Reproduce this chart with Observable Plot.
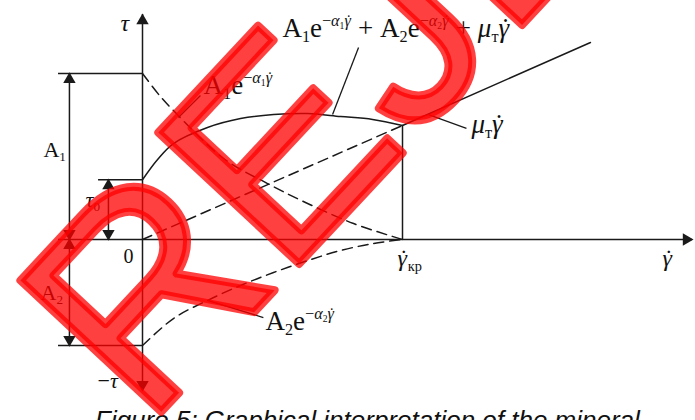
<!DOCTYPE html>
<html><head><meta charset="utf-8">
<script src="https://cdn.jsdelivr.net/npm/d3@7"></script>
<script src="https://cdn.jsdelivr.net/npm/@observablehq/plot@0.6"></script>
<style>
body{margin:0;background:#fff;overflow:hidden;}
#chart svg{display:block;overflow:visible;position:relative;z-index:1;}
#caption{font-family:"Liberation Sans",Arial,sans-serif;font-style:italic;font-size:26px;line-height:28px;margin-top:1px;padding-left:95px;white-space:nowrap;color:#111;}
</style></head><body>
<div id="chart"></div>
<div id="caption">Figure 5: Graphical interpretation of the mineral</div>
<script>
// ---- schematic values (γ̇ in units of γ̇кр, τ in units of A1) ----
const A1 = 1.0;
const A2 = 0.639;
const tau0 = 0.36;
const gammaCr = 1.0;
const tauCr = 0.687;

// total curve A1e^{-α1γ} - A2e^{-α2γ} + μγ
const curveGamma = [0, 0.058, 0.119, 0.25, 0.377, 0.504, 0.635, 0.762, 0.885, 1.0];
const curveTau   = [0.36, 0.482, 0.578, 0.675, 0.729, 0.753, 0.759, 0.741, 0.723, 0.687];
// viscous branch beyond γ̇кр
const flowGamma = [1.0, 1.723];
const flowTau   = [0.687, 1.187];
// μτγ̇ dashed
const muGamma = [0, 1.0];
const muTau   = [0, 0.687];
// A1 e^{-α1 γ} dashed
const a1Gamma = [0, 0.069, 0.119, 0.312, 0.481, 0.635, 0.812, 1.0];
const a1Tau   = [1.0, 0.861, 0.777, 0.488, 0.337, 0.217, 0.096, 0.0];
// -A2 e^{-α2 γ} dashed
const a2Gamma = [0, 0.119, 0.25, 0.377, 0.504, 0.635, 0.762, 0.888, 1.0];
const a2Tau   = [-0.639, -0.476, -0.367, -0.277, -0.199, -0.127, -0.066, -0.024, 0.0];

// axes extents
const xAxisFrom = -0.323, xAxisTo = 2.115;
const yAxisFrom = -0.91, yAxisTo = 1.355;
const guideLeft = -0.323;      // A1 / A2 level lines
const tau0Left = -0.169;       // τ0 level line
const ampArrowX = -0.281;      // A1 / A2 dimension arrows
const tau0ArrowX = -0.131;     // τ0 dimension arrow

// leader lines (label -> curve)
const leaderX1 = [0.831, 0.223, 1.246, 0.465];
const leaderY1 = [1.157, 0.867, 0.669, -0.470];
const leaderX2 = [0.731, 0.138, 1.100, 0.250];
const leaderY2 = [0.753, 0.735, 0.752, -0.367];

// labels
const labelText = ["τ", "0", "−τ", "A_{1}", "τ_{0}", "A_{2}", "γ̇_{кр}", "γ̇",
  "A_{1}e^{−α_{1}γ̇} + A_{2}e^{−α_{2}γ̇} + μ_{т}γ̇",
  "A_{1}e^{−α_{1}γ̇}", "μ_{т}γ̇", "A_{2}e^{−α_{2}γ̇}"];
const labelX = [-0.085, -0.073, -0.173, -0.381, -0.219, -0.392, 0.981, 2.0, 0.538, 0.235, 1.265, 0.473];
const labelY = [1.259, -0.139, -0.892, 0.494, 0.193, -0.367, -0.157, -0.157, 1.217, 0.878, 0.639, -0.548];
const labelSize = [24, 20, 22, 22, 22, 22, 24, 24, 27, 27, 27, 27];

// stamp overlay
const stampText = "REJECTED";
const stampX = 0.012, stampY = -1.139, stampAngle = -47;

const ink = "#1a1a1a";
const pxY = 1 / 166, pxX = 1 / 260; // one pixel in data units
const tip = 6;

const zip = (xs, ys) => xs.map((x, i) => ({x, y: ys[i]}));
const labels = labelText.map((t, i) => ({t, x: labelX[i], y: labelY[i], s: labelSize[i]}));
const leaders = leaderX1.map((x, i) => ({x1: x, y1: leaderY1[i], x2: leaderX2[i], y2: leaderY2[i]}));
const heads = [
  {x: 0, y: yAxisTo - tip * pxY, r: 0},
  {x: 0, y: yAxisFrom + tip * pxY, r: 180},
  {x: xAxisTo - tip * pxX, y: 0, r: 90},
  {x: ampArrowX, y: A1 - tip * pxY, r: 0},
  {x: ampArrowX, y: 0 + tip * pxY, r: 180},
  {x: ampArrowX, y: 0 - tip * pxY, r: 0},
  {x: ampArrowX, y: -A2 + tip * pxY, r: 180},
  {x: tau0ArrowX, y: tau0 - tip * pxY, r: 0},
  {x: tau0ArrowX, y: 0 + tip * pxY, r: 180}
];
const solid = {stroke: ink, strokeWidth: 1.5};
const dashed = {stroke: ink, strokeWidth: 1.5, strokeDasharray: "10,6"};

const svg = Plot.plot({
  width: 695, height: 405, margin: 0,
  x: {domain: [-142 / 260, 553 / 260], axis: null},
  y: {domain: [-1, 239 / 166], axis: null},
  marks: [
    Plot.ruleY([0], {x1: xAxisFrom, x2: xAxisTo, ...solid}),
    Plot.ruleX([0], {y1: yAxisFrom, y2: yAxisTo, ...solid}),
    Plot.ruleY([A1, -A2], {x1: guideLeft, x2: 0, ...solid}),
    Plot.ruleY([tau0], {x1: tau0Left, x2: 0, ...solid}),
    Plot.ruleX([ampArrowX], {y1: -A2, y2: A1, ...solid}),
    Plot.ruleX([tau0ArrowX], {y1: 0, y2: tau0, ...solid}),
    Plot.ruleX([gammaCr], {y1: 0, y2: tauCr, ...solid}),
    Plot.line(zip(curveGamma, curveTau), {x: "x", y: "y", curve: "catmull-rom", ...solid}),
    Plot.line(zip(flowGamma, flowTau), {x: "x", y: "y", ...solid}),
    Plot.line(zip(muGamma, muTau), {x: "x", y: "y", ...dashed}),
    Plot.line(zip(a1Gamma, a1Tau), {x: "x", y: "y", curve: "catmull-rom", ...dashed}),
    Plot.line(zip(a2Gamma, a2Tau), {x: "x", y: "y", curve: "catmull-rom", ...dashed}),
    Plot.link(leaders, {x1: "x1", y1: "y1", x2: "x2", y2: "y2", stroke: ink, strokeWidth: 1.3}),
    Plot.dot(heads, {x: "x", y: "y", symbol: "triangle", rotate: "r", r: 4.6, fill: ink, stroke: null}),
    Plot.text(labels, {x: "x", y: "y", text: "t", fontSize: "s", textAnchor: "start", lineAnchor: "bottom",
      fontFamily: "Liberation Serif, Times New Roman, serif", fill: "#111"}),
    Plot.text([stampText], {x: () => stampX, y: () => stampY, text: d => d, rotate: stampAngle,
      fontSize: 280, textAnchor: "start", lineAnchor: "bottom", fontFamily: "Liberation Sans, Arial, sans-serif",
      fill: "#ff0000", fillOpacity: 0.75, stroke: "#ff0000", strokeOpacity: 0.75, strokeWidth: 8})
  ]
});

// rich text: _{sub}, ^{sup}, italic Greek, dot-above placed over the letter
const GREEK = /[α-ωΑ-Ω]/;
function build(parent, s, size) {
  let i = 0, buf = "";
  const flush = () => { if (buf) { parent.append("tspan").text(buf); buf = ""; } };
  while (i < s.length) {
    const c = s[i];
    if ((c === "_" || c === "^") && s[i + 1] === "{") {
      flush();
      let depth = 1, j = i + 2;
      while (j < s.length && depth > 0) { if (s[j] === "{") depth++; else if (s[j] === "}") depth--; j++; }
      const inner = s.slice(i + 2, j - 1);
      const sub = size * 0.6;
      const t = parent.append("tspan").attr("font-size", sub)
        .attr("baseline-shift", c === "_" ? -0.2 * size : 0.42 * size);
      build(t, inner, sub);
      i = j; continue;
    }
    if (GREEK.test(c)) {
      flush();
      i++;
      parent.append("tspan").attr("font-style", "italic").text(c);
      if (s[i] === "\u0307") {
        i++;
        parent.append("tspan").attr("dx", "-0.3em").attr("font-style", "normal").text("\u02D9");
      }
      continue;
    }
    buf += c; i++;
  }
  flush();
}
d3.select(svg).selectAll("text").each(function () {
  const s = this.textContent;
  if (s === stampText) return;
  const size = parseFloat(this.getAttribute("font-size")) || 20;
  const sel = d3.select(this);
  sel.text("");
  build(sel, s, size);
});
document.getElementById("chart").append(svg);
</script></body></html>
